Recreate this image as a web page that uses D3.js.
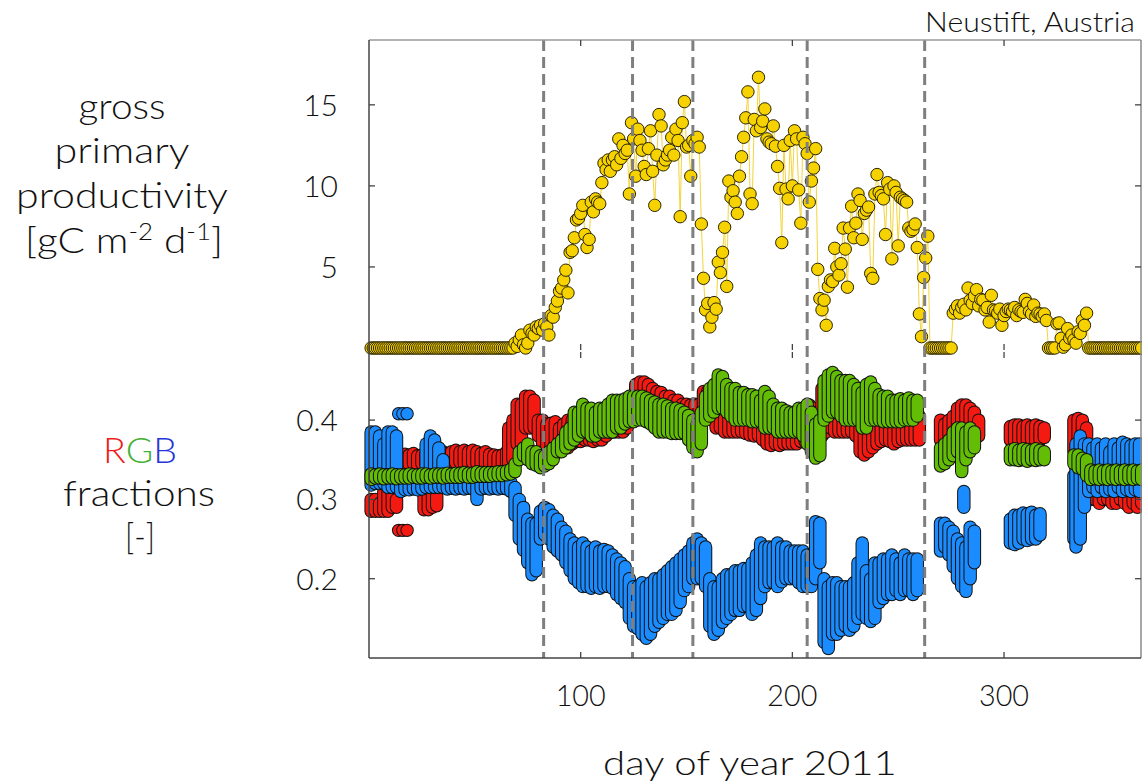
<!DOCTYPE html>
<html>
<head>
<meta charset="utf-8">
<script src="https://cdn.jsdelivr.net/npm/d3@7"></script>
<style>
  body { margin: 0; background: #fff; }
  text { font-family: Lato, "Open Sans", sans-serif; fill: #111; font-weight: 300; }
</style>
</head>
<body>
<svg id="chart" width="1142" height="783"></svg>
<script>
// ---- data ---------------------------------------------------------------
const siteName = "Neustift, Austria";
const xTicks = [100, 200, 300];
const gppTicks = [5, 10, 15];
const rgbTicks = [0.2, 0.3, 0.4];
const phaseDays = [82.5, 124.5, 153, 207, 262.5];

// daily gross primary productivity, day 1..365
const gppValues = [
  0,0,0,0,0,0,0,0,0,0, 0,0,0,0,0,0,0,0,0,0, 0,0,0,0,0,0,0,0,0,0,
  0,0,0,0,0,0,0,0,0,0, 0,0,0,0,0,0,0,0,0,0, 0,0,0,0,0,0,0,0,0,0,
  0,0,0,0,0,0,0,0,
  0.3,0.1,0.5,0.8,0.2,0.0,0.3,1.1,0.9,0.8,1.3,1.2,1.4,1.1,1.5,1.3,0.8,2.0,1.9,2.5,
  2.9,3.5,3.7,4.2,4.8,3.4,5.9,6.0,6.8,7.9,8.0,8.3,8.8,7.0,6.2,6.7,9.0,8.4,9.2,9.0,
  8.9,10.2,11.4,11.0,11.6,10.9,11.6,11.8,11.3,12.9,11.7,12.5,12.0,12.2,9.5,13.9,12.9,10.6,13.5,12.8,
  12.2,11.2,10.7,12.3,13.4,10.9,8.8,11.9,14.4,13.7,11.3,11.6,11.9,12.2,13.0,11.9,13.5,12.8,8.1,13.9,
  15.2,12.4,12.5,10.6,12.8,12.6,13.0,12.4,7.65,4.3,2.35,2.75,1.3,1.9,2.8,2.4,5.3,4.65,5.9,7.45,
  3.8,10.3,9.3,9.7,9.0,8.3,10.6,11.8,13.0,14.2,15.8,9.5,8.9,14.1,13.4,16.7,13.6,14.0,14.75,12.9,
  12.7,12.6,13.7,12.45,11.2,9.85,6.5,12.5,9.8,9.2,12.8,10.0,13.4,12.9,9.75,7.7,13.0,12.6,12.0,9.0,
  10.3,11.1,12.3,4.85,3.05,2.35,2.95,1.4,3.8,4.2,4.1,6.15,5.0,4.5,5.2,7.4,6.1,3.75,7.4,8.75,
  6.8,7.7,9.5,9.1,6.7,8.3,8.5,8.7,4.6,4.3,9.5,10.7,9.6,9.4,9.2,7.0,10.2,9.8,5.5,10.0,
  9.6,6.3,9.3,9.2,9.1,9.0,7.4,7.2,7.3,7.65,6.2,2.1,0.7,4.35,5.55,6.9,
  0,0,0,0,0,0,0,0,0,0,0,
  2.15,2.4,2.6,2.15,2.5,2.7,2.35,3.7,2.95,2.75,3.2,3.6,2.6,3.0,2.95,2.35,2.5,1.6,3.25,2.35,
  2.3,2.15,2.4,1.4,2.0,2.25,2.4,2.35,2.25,2.5,2.0,2.35,2.25,2.2,3.0,2.75,2.25,2.1,2.65,1.95,
  2.15,2.1,1.95,2.1,1.7,
  0,0,0,0,
  1.5,1.55,0.6,0.05,0.2,1.2,0.6,0.8,0.5,0.3,1.0,0.9,1.7,1.4,2.15,
  0,0,0,0,0,0,0,0,0,0, 0,0,0,0,0,0,0,0,0,0, 0,0,0,0,0,0
];

// camera RGB fractions: for each day [day, lowest, highest] of that day's images
const redFraction = [
  [1,.285,.300],[3,.285,.300],[5,.285,.295],[7,.285,.31],[9,.285,.31],[11,.29,.31],[13,.29,.30],
  [14,.261,.261],[16,.261,.261],[18,.261,.261],
  [15,.343,.356],[17,.345,.357],[19,.344,.356],[21,.345,.358],[23,.343,.355],[25,.345,.356],
  [26,.287,.31],[28,.287,.31],[30,.29,.31],[32,.292,.305],
  [27,.344,.357],[29,.346,.358],[31,.345,.356],[33,.344,.357],[35,.346,.360],[37,.345,.358],
  [39,.347,.36],[41,.346,.362],[43,.347,.36],[45,.345,.362],[47,.345,.36],[49,.346,.362],
  [51,.345,.36],[53,.344,.358],[55,.345,.36],[57,.344,.357],[59,.342,.356],[61,.342,.355],
  [63,.343,.356],[65,.342,.36],
  [66,.345,.39],[68,.35,.40],[70,.37,.42],[72,.37,.42],[74,.39,.43],[76,.39,.43],[78,.39,.425],
  [80,.38,.40],[82,.37,.40],[84,.365,.395],[86,.362,.396],[88,.364,.398],[90,.36,.39],
  [92,.364,.395],[94,.365,.40],[96,.37,.40],[98,.373,.406],[100,.373,.40],[102,.375,.405],
  [104,.375,.41],[106,.373,.41],[108,.375,.408],[110,.375,.41],[112,.38,.415],[114,.385,.419],
  [116,.385,.417],[118,.385,.42],[120,.385,.42],[122,.39,.425],[124,.40,.43],[126,.415,.445],
  [128,.423,.448],[130,.423,.448],[132,.42,.445],[134,.415,.44],[136,.41,.436],[138,.405,.435],
  [140,.40,.43],[142,.40,.43],[144,.398,.425],[146,.398,.425],[148,.398,.42],[150,.398,.42],
  [152,.398,.419],[154,.395,.42],[156,.398,.42],[158,.405,.436],[160,.406,.436],[162,.40,.43],
  [164,.39,.43],[166,.39,.43],[168,.385,.425],[170,.385,.425],[172,.385,.42],[174,.385,.42],
  [176,.385,.42],[178,.383,.419],[180,.381,.415],[182,.38,.415],[184,.38,.41],[186,.375,.41],
  [188,.37,.40],[190,.368,.398],[192,.37,.398],[194,.368,.395],[196,.37,.398],[198,.37,.396],
  [200,.37,.398],[202,.37,.395],[204,.373,.40],[206,.373,.415],[208,.373,.419],[210,.375,.415],
  [212,.38,.41],[214,.38,.44],[216,.385,.43],[218,.39,.448],[220,.385,.43],[222,.385,.425],
  [224,.385,.42],[226,.385,.42],[228,.385,.42],[230,.38,.42],[232,.36,.42],[234,.356,.415],
  [236,.36,.41],[238,.365,.41],[240,.37,.41],[242,.373,.41],[244,.375,.41],[246,.373,.405],
  [248,.37,.405],[250,.373,.41],[252,.375,.41],[254,.375,.405],[256,.375,.41],[258,.375,.41],
  [260,.375,.405],
  [270,.375,.40],[272,.375,.395],[274,.38,.40],[276,.38,.405],[278,.385,.415],[280,.385,.419],
  [282,.385,.419],[284,.38,.415],[286,.38,.41],[288,.38,.40],
  [303,.375,.392],[305,.373,.394],[307,.373,.394],[309,.375,.392],[311,.373,.394],[313,.375,.392],
  [315,.373,.394],[317,.375,.392],[319,.378,.39],
  [333,.36,.40],[335,.356,.402],[337,.36,.40],[339,.30,.39],[341,.30,.36],[343,.30,.335],
  [345,.295,.335],[347,.30,.33],[349,.30,.335],[351,.295,.355],[353,.295,.35],[355,.30,.355],
  [357,.295,.35],[359,.29,.355],[361,.295,.35],[363,.29,.355],[365,.295,.35]
];

const greenFraction = [
  [1,.325,.332],[3,.327,.331],[5,.327,.332],[7,.326,.331],[9,.327,.331],[11,.327,.332],
  [13,.326,.331],[15,.327,.331],[17,.327,.331],[19,.327,.332],[21,.328,.331],[23,.327,.331],
  [25,.327,.332],[27,.328,.332],[29,.327,.331],[31,.328,.332],[33,.328,.332],[35,.327,.332],
  [37,.328,.333],[39,.328,.332],[41,.328,.333],[43,.328,.333],[45,.329,.334],[47,.328,.333],
  [49,.328,.333],[51,.329,.335],[53,.329,.334],[55,.329,.334],[57,.329,.334],[59,.33,.334],
  [61,.33,.335],[63,.33,.335],[65,.331,.336],[67,.332,.338],
  [69,.335,.345],[71,.35,.36],[73,.355,.365],[75,.35,.37],[77,.345,.36],[79,.343,.36],
  [81,.34,.355],[83,.342,.355],[85,.345,.36],[87,.35,.365],[89,.36,.37],[91,.36,.375],
  [93,.365,.385],[95,.37,.39],[97,.375,.41],[99,.38,.41],[101,.385,.42],[103,.385,.415],
  [105,.38,.415],[107,.38,.41],[109,.385,.415],[111,.385,.415],[113,.385,.42],[115,.385,.425],
  [117,.39,.425],[119,.39,.425],[121,.395,.427],[123,.398,.43],[125,.398,.43],[127,.40,.43],
  [129,.40,.43],[131,.398,.428],[133,.395,.425],[135,.39,.423],[137,.385,.42],[139,.385,.42],
  [141,.385,.418],[143,.383,.415],[145,.383,.415],[147,.383,.413],[149,.383,.41],[151,.375,.406],
  [153,.365,.40],[155,.36,.395],[157,.37,.41],[159,.40,.43],[161,.405,.44],[163,.41,.445],
  [165,.415,.457],[167,.415,.455],[169,.41,.445],[171,.405,.44],[173,.40,.44],[175,.40,.435],
  [177,.40,.435],[179,.40,.432],[181,.398,.432],[183,.398,.43],[185,.398,.425],[187,.39,.436],
  [189,.39,.43],[191,.39,.42],[193,.385,.415],[195,.385,.415],[197,.385,.412],[199,.385,.41],
  [201,.385,.41],[203,.385,.415],[205,.38,.415],[207,.37,.42],[209,.36,.41],[211,.352,.395],
  [213,.355,.40],[215,.40,.45],[217,.405,.457],[219,.41,.46],[221,.41,.455],[223,.405,.45],
  [225,.40,.45],[227,.40,.45],[229,.40,.445],[231,.40,.44],[233,.39,.435],[235,.39,.445],
  [237,.40,.448],[239,.40,.44],[241,.40,.432],[243,.398,.43],[245,.398,.43],[247,.398,.425],
  [249,.398,.425],[251,.398,.427],[253,.40,.425],[255,.40,.428],[257,.40,.425],[259,.405,.425],
  [270,.342,.365],[272,.345,.37],[274,.35,.375],[276,.355,.385],[278,.36,.39],[280,.335,.39],
  [282,.35,.385],[284,.36,.39],[286,.365,.385],
  [303,.35,.362],[305,.35,.364],[307,.349,.362],[309,.35,.364],[311,.348,.363],[313,.35,.362],
  [315,.349,.364],[317,.35,.362],[319,.35,.36],
  [333,.345,.356],[335,.34,.356],[337,.338,.352],[339,.33,.35],[341,.325,.337],[343,.326,.336],
  [345,.325,.337],[347,.326,.336],[349,.325,.337],[351,.326,.336],[353,.325,.337],[355,.326,.336],
  [357,.325,.337],[359,.326,.336],[361,.325,.337],[363,.326,.336],[365,.325,.337]
];

const blueFraction = [
  [1,.318,.385],[3,.32,.385],[5,.32,.38],[7,.32,.37],[9,.315,.385],[11,.315,.385],[13,.315,.38],
  [14,.408,.408],[16,.408,.408],[18,.408,.408],
  [15,.31,.33],[17,.312,.322],[19,.312,.322],[21,.313,.322],[23,.312,.322],[25,.313,.323],
  [27,.315,.37],[29,.315,.38],[31,.315,.375],[33,.315,.365],[35,.315,.35],
  [37,.313,.325],[39,.314,.324],[41,.313,.325],[43,.314,.325],[45,.313,.324],[47,.314,.325],
  [49,.313,.325],[51,.30,.325],[53,.313,.324],[55,.314,.325],[57,.313,.325],[59,.314,.324],
  [61,.313,.325],[63,.314,.325],[65,.313,.324],[67,.31,.322],
  [69,.28,.315],[71,.25,.30],[73,.236,.29],[75,.22,.275],[77,.205,.27],[79,.21,.27],
  [81,.25,.285],[83,.255,.29],[85,.25,.287],[87,.24,.28],[89,.235,.275],[91,.23,.265],
  [93,.22,.26],[95,.21,.25],[97,.20,.245],[99,.195,.24],[101,.19,.245],[103,.19,.24],
  [105,.188,.235],[107,.19,.24],[109,.188,.235],[111,.19,.237],[113,.19,.235],[115,.188,.23],
  [117,.18,.225],[119,.175,.22],[121,.17,.215],[123,.15,.20],[125,.14,.19],[127,.137,.19],
  [129,.13,.195],[131,.125,.19],[133,.13,.195],[135,.14,.20],[137,.145,.20],[139,.15,.205],
  [141,.155,.21],[143,.155,.215],[145,.16,.22],[147,.17,.225],[149,.185,.23],[151,.19,.235],
  [153,.20,.245],[155,.20,.25],[157,.20,.245],[159,.19,.24],[161,.14,.20],[163,.13,.19],
  [165,.135,.19],[167,.145,.20],[169,.15,.205],[171,.155,.205],[173,.16,.21],[175,.16,.21],
  [177,.165,.213],[179,.165,.213],[181,.155,.22],[183,.16,.23],[185,.175,.245],[187,.19,.24],
  [189,.195,.24],[191,.195,.24],[193,.19,.245],[195,.196,.24],[197,.20,.24],[199,.20,.235],
  [201,.20,.235],[203,.195,.235],[205,.19,.235],[207,.19,.23],[209,.19,.23],[211,.20,.272],
  [213,.22,.27],[215,.12,.20],[217,.112,.19],[219,.13,.195],[221,.13,.195],[223,.135,.19],
  [225,.14,.19],[227,.135,.19],[229,.14,.195],[231,.15,.22],[233,.155,.245],[235,.15,.21],
  [237,.146,.20],[239,.15,.22],[241,.17,.22],[243,.175,.225],[245,.18,.225],[247,.18,.23],
  [249,.185,.225],[251,.18,.22],[253,.185,.23],[255,.185,.225],[257,.18,.225],[259,.185,.225],
  [270,.235,.27],[272,.24,.27],[274,.23,.265],[276,.215,.26],[278,.20,.25],[280,.19,.245],
  [281,.29,.31],[282,.184,.24],[284,.20,.265],[286,.22,.26],
  [303,.245,.275],[305,.243,.28],[307,.245,.28],[309,.25,.283],[311,.248,.282],[313,.25,.284],
  [315,.25,.28],[317,.255,.282],
  [333,.25,.33],[334,.24,.37],[336,.25,.38],[338,.29,.37],[340,.31,.37],[342,.315,.365],
  [344,.31,.37],[346,.315,.365],[348,.31,.37],[350,.312,.36],[352,.31,.37],[354,.315,.365],
  [356,.31,.372],[358,.312,.37],[360,.31,.368],[362,.312,.37],[364,.31,.37]
];

// ---- layout -------------------------------------------------------------
const svg = d3.select("#chart");
const left = 369, right = 1141;
const topY = 40, topBottom = 350, botTop = 352, botY = 658;

const x = d3.scaleLinear().domain([0, 364.7]).range([left, right]);
const yGpp = d3.scaleLinear().domain([0, 19]).range([348, 40]);
const yRgb = d3.scaleLinear().domain([0.1, 0.4]).range([658, 420.1]);

const colors = { red: "#f41a12", green: "#63bd05", blue: "#1a8cff", gpp: "#f6d200" };

// stretch a text element horizontally about its anchor so it spans `width`
function fitWidth(sel, width) {
  const node = sel.node();
  const w = node.getBBox().width;
  const ax = +sel.attr("x");
  const k = width / w;
  sel.attr("transform", `translate(${ax},0) scale(${k},1) translate(${-ax},0)`);
  return sel;
}

// ---- top panel: GPP -----------------------------------------------------
const gpp = gppValues.map((v, i) => ({ day: i + 1, v }));
const line = d3.line().x(d => x(d.day)).y(d => yGpp(d.v));
svg.append("path").datum(gpp)
  .attr("d", line).attr("fill", "none")
  .attr("stroke", "#f3d43a").attr("stroke-width", 1);
svg.append("g").selectAll("circle").data(gpp).join("circle")
  .attr("cx", d => x(d.day)).attr("cy", d => yGpp(d.v)).attr("r", 6.2)
  .attr("fill", colors.gpp).attr("stroke", "#2a2400").attr("stroke-width", 1);

// ---- bottom panel: RGB fractions ----------------------------------------
function drawColumns(data, fill) {
  const g = svg.append("g").selectAll("g").data(data).join("g");
  g.append("line")
    .attr("x1", d => x(d[0])).attr("x2", d => x(d[0]))
    .attr("y1", d => yRgb(d[1])).attr("y2", d => yRgb(d[2]))
    .attr("stroke", "#111").attr("stroke-width", 13.4).attr("stroke-linecap", "round");
  g.append("line")
    .attr("x1", d => x(d[0])).attr("x2", d => x(d[0]))
    .attr("y1", d => yRgb(d[1])).attr("y2", d => yRgb(d[2]))
    .attr("stroke", fill).attr("stroke-width", 11.4).attr("stroke-linecap", "round");
}
drawColumns(redFraction, colors.red);
drawColumns(blueFraction, colors.blue);
drawColumns(greenFraction, colors.green);

// ---- phase boundaries ---------------------------------------------------
svg.append("g").selectAll("line").data(phaseDays).join("line")
  .attr("x1", d => x(d)).attr("x2", d => x(d))
  .attr("y1", topY).attr("y2", botY)
  .attr("stroke", "#7f7f7f").attr("stroke-width", 3)
  .attr("stroke-dasharray", "11,6");

// ---- frame and ticks ----------------------------------------------------
const frame = svg.append("g").attr("fill", "none");
frame.append("line").attr("x1", left).attr("x2", right).attr("y1", topY).attr("y2", topY)
  .attr("stroke", "#9a9a9a").attr("stroke-width", 1.5);
frame.append("line").attr("x1", right).attr("x2", right).attr("y1", topY).attr("y2", botY)
  .attr("stroke", "#8a8a8a").attr("stroke-width", 1.5);
frame.append("line").attr("x1", left).attr("x2", left).attr("y1", topY).attr("y2", botY)
  .attr("stroke", "#444").attr("stroke-width", 1.5);
frame.append("line").attr("x1", left).attr("x2", right).attr("y1", botY).attr("y2", botY)
  .attr("stroke", "#444").attr("stroke-width", 1.5);

const tickLen = 6;
const axes = svg.append("g").attr("class", "axes");
[[topY, 1], [topBottom, -1], [botTop, 1], [botY, -1]].forEach(([yy, dir]) => {
  axes.append("g").selectAll("line").data(xTicks).join("line")
    .attr("x1", d => x(d)).attr("x2", d => x(d))
    .attr("y1", yy).attr("y2", yy + dir * tickLen)
    .attr("stroke", "#444").attr("stroke-width", 1.3);
});
[[gppTicks, yGpp], [rgbTicks, yRgb]].forEach(([ticks, sc]) => {
  axes.append("g").selectAll("line").data(ticks).join("line")
    .attr("x1", left).attr("x2", left + tickLen)
    .attr("y1", d => sc(d)).attr("y2", d => sc(d))
    .attr("stroke", "#444").attr("stroke-width", 1.3);
  axes.append("g").selectAll("line").data(ticks).join("line")
    .attr("x1", right).attr("x2", right - tickLen)
    .attr("y1", d => sc(d)).attr("y2", d => sc(d))
    .attr("stroke", "#444").attr("stroke-width", 1.3);
});

// tick labels
const fmtRgb = d3.format(".1f");
svg.append("g").selectAll("text").data(gppTicks).join("text")
  .attr("x", 338).attr("y", d => yGpp(d)).attr("dy", "0.36em")
  .attr("text-anchor", "end").attr("font-size", 30).text(d => d);
svg.append("g").selectAll("text").data(rgbTicks).join("text")
  .attr("x", 338).attr("y", d => yRgb(d)).attr("dy", "0.36em")
  .attr("text-anchor", "end").attr("font-size", 30).text(d => fmtRgb(d));
svg.append("g").selectAll("text").data(xTicks).join("text")
  .attr("x", d => x(d)).attr("y", 706)
  .attr("text-anchor", "middle").attr("font-size", 30).text(d => d)
  .each(function () { fitWidth(d3.select(this), 50); });

// ---- titles -------------------------------------------------------------
fitWidth(svg.append("text").attr("x", 1135).attr("y", 32).attr("text-anchor", "end")
  .attr("font-size", 27).text(siteName), 210);

fitWidth(svg.append("text").attr("x", 750).attr("y", 775).attr("text-anchor", "middle")
  .attr("font-size", 33).text("day of year 2011"), 294);

const gppLabel = [["gross", 87], ["primary", 135], ["productivity", 212]];
svg.append("g").selectAll("text").data(gppLabel).join("text")
  .attr("x", 122).attr("y", (d, i) => 119 + i * 44.5)
  .attr("text-anchor", "middle").attr("font-size", 36).text(d => d[0])
  .each(function (d) { fitWidth(d3.select(this), d[1]); });
const unit = svg.append("text").attr("x", 124).attr("y", 253)
  .attr("text-anchor", "middle").attr("font-size", 36);
unit.append("tspan").text("[gC m");
unit.append("tspan").attr("dy", -13).attr("font-size", 23).text("-2");
unit.append("tspan").attr("dy", 13).text(" d");
unit.append("tspan").attr("dy", -13).attr("font-size", 23).text("-1");
unit.append("tspan").attr("dy", 13).text("]");
fitWidth(unit, 198);

const rgb = svg.append("text").attr("x", 140).attr("y", 463)
  .attr("text-anchor", "middle").attr("font-size", 36);
rgb.append("tspan").attr("fill", "#ec1c1c").text("R");
rgb.append("tspan").attr("fill", "#45b035").text("G");
rgb.append("tspan").attr("fill", "#2436d8").text("B");
fitWidth(rgb, 74);
fitWidth(svg.append("text").attr("x", 139).attr("y", 506).attr("text-anchor", "middle")
  .attr("font-size", 36).text("fractions"), 152);
fitWidth(svg.append("text").attr("x", 140).attr("y", 549).attr("text-anchor", "middle")
  .attr("font-size", 36).text("[-]"), 30);
</script>
</body>
</html>
